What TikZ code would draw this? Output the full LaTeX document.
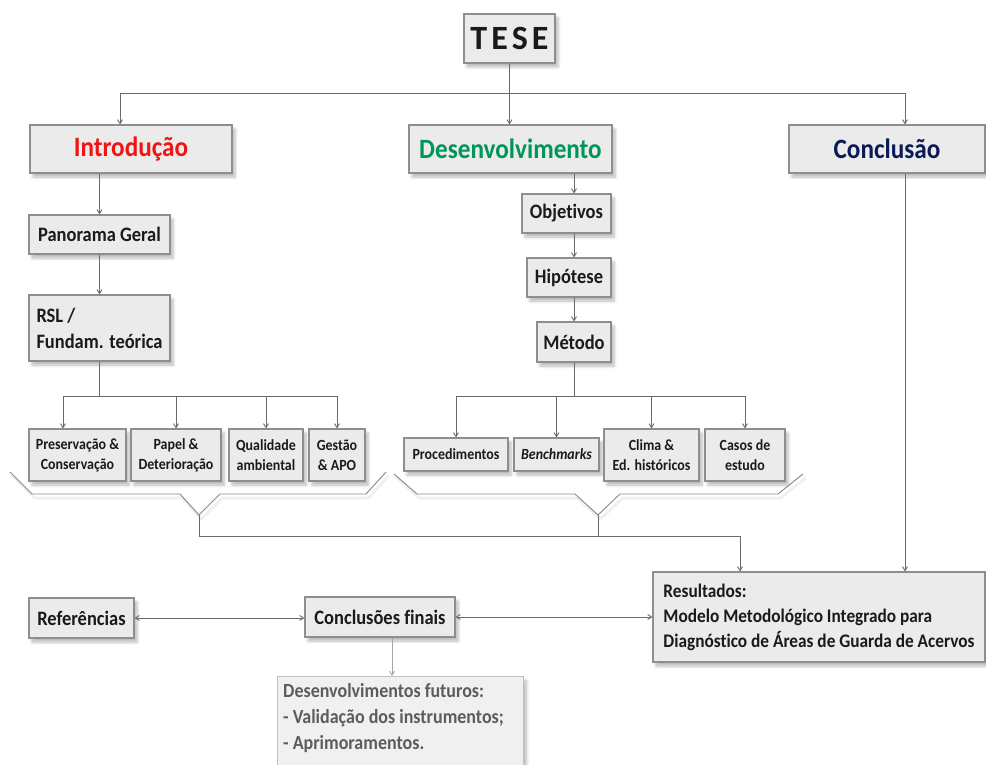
\documentclass[tikz,border=0pt]{standalone}
\usepackage{fontspec}
\setmainfont{Carlito}[FakeStretch=0.9, Ligatures={NoCommon}]
\newfontfamily\tesefont{Carlito}
\usetikzlibrary{arrows.meta,shadows.blur}
\definecolor{boxfill}{HTML}{EBEBEB}
\definecolor{boxline}{HTML}{8E8E8E}
\definecolor{conn}{HTML}{6A6A6A}
\definecolor{txt}{HTML}{1A1A1A}
\definecolor{introred}{HTML}{F01414}
\definecolor{desgreen}{HTML}{00955A}
\definecolor{connavy}{HTML}{0B1A55}
\definecolor{futtxt}{HTML}{5C5C5C}
\begin{document}
\begin{tikzpicture}[x=1pt,y=-1pt,
  box/.style={draw=boxline, fill=boxfill, line width=1.1pt, inner sep=0pt, text=txt,
    blur shadow={shadow xshift=3pt, shadow yshift=-4pt, shadow blur steps=6, shadow opacity=28, shadow blur radius=3pt}},
  head/.style={font=\bfseries\fontsize{28}{28}\selectfont},
  mid/.style={font=\bfseries\fontsize{20.5}{26}\selectfont},
  small/.style={font=\bfseries\fontsize{15.5}{20}\selectfont, align=center},
  line/.style={draw=conn, line width=0.9pt},
  arr/.style={line, -{Straight Barb[length=4pt,width=5pt]}},
  arrb/.style={line, {Straight Barb[length=4pt,width=5pt]}-{Straight Barb[length=4pt,width=5pt]}},
  bracesty/.style={draw=conn!80, line width=0.9pt, line join=miter}]
\useasboundingbox (0,0) rectangle (986,765);
\clip (0,0) rectangle (986,765);

% top level
\node[box, minimum width=91pt, minimum height=49pt] (tese) at (509.5,38.5)
  {\tesefont\bfseries\fontsize{34}{34}\selectfont T\hspace{4pt}E\hspace{4pt}S\hspace{4pt}E};
\node[box, head, text=introred, minimum width=202pt, minimum height=48pt] (intro) at (131,149) {Introdução};
\node[box, head, text=desgreen, minimum width=203pt, minimum height=48pt] (desen) at (510.5,149) {Desenvolvimento};
\node[box, head, text=connavy, minimum width=196pt, minimum height=48pt] (concl) at (887,149) {Conclusão};

% introduction column
\node[box, mid, minimum width=141pt, minimum height=39pt] (pano) at (99.5,234.5) {Panorama Geral};
\node[box, mid, align=left, minimum width=141pt, minimum height=66pt] (rsl) at (99.5,328) {RSL /\\Fundam. teórica};
\node[box, small, minimum width=97pt, minimum height=52pt] (pres) at (77.5,455) {Preservação \&\\Conservação};
\node[box, small, minimum width=90pt, minimum height=52pt] (papel) at (176,455) {Papel \&\\Deterioração};
\node[box, small, minimum width=74pt, minimum height=52pt] (qual) at (266,455) {Qualidade\\ambiental};
\node[box, small, minimum width=56pt, minimum height=52pt] (gest) at (337,455) {Gestão\\\& APO};

% development column
\node[box, mid, minimum width=89pt, minimum height=39pt] (obj) at (566.5,213.5) {Objetivos};
\node[box, mid, minimum width=84pt, minimum height=39pt] (hip) at (569,277.5) {Hipótese};
\node[box, mid, minimum width=74pt, minimum height=40pt] (met) at (574,342) {Método};
\node[box, small, minimum width=104pt, minimum height=33pt] (proc) at (456,454.5) {Procedimentos};
\node[box, small, minimum width=85pt, minimum height=33pt] (bench) at (556.5,454.5) {\textit{Benchmarks}};
\node[box, small, minimum width=95pt, minimum height=52pt] (clima) at (651.5,455) {Clima \&\\Ed. históricos};
\node[box, small, minimum width=80pt, minimum height=52pt] (casos) at (745,455) {Casos de\\estudo};

% bottom
\node[box, font=\bfseries\fontsize{19.2}{25}\selectfont, align=left, minimum width=332pt, minimum height=90pt] (resu) at (819,617)
  {Resultados:\\Modelo Metodológico Integrado para\\Diagnóstico de Áreas de Guarda de Acervos};
\node[box, mid, minimum width=105pt, minimum height=40pt] (ref) at (81.5,618) {Referências};
\node[box, mid, minimum width=150pt, minimum height=40pt] (cf) at (380,617) {Conclusões finais};
\node[box, draw=boxline!55, fill=boxfill!75, minimum width=246pt, minimum height=114pt, anchor=north west] (fut) at (277,676) {};
\node[font=\bfseries\fontsize{20}{26}\selectfont, text=futtxt, align=left, anchor=north west, inner sep=0pt] (futtext) at (283,683)
  {Desenvolvimentos futuros:\\- Validação dos instrumentos;\\- Aprimoramentos.};

% top bus
\coordinate (busL) at (120,93);
\coordinate (busR) at (905,93);
\coordinate (busM) at (tese.south |- busL);
\draw[line] (tese.south) -- (busM);
\draw[line] (busL) -- (busR);
\draw[arr] (busL) -- (busL |- intro.north);
\draw[arr] (busM) -- (busM |- desen.north);
\draw[arr] (busR) -- (busR |- concl.north);

% introduction chain
\draw[arr] (intro.south -| pano.north) -- (pano.north);
\draw[arr] (pano.south) -- (rsl.north);
\coordinate (ib1) at (63,396);
\coordinate (ib4) at (337,396);
\draw[line] (rsl.south) -- (rsl.south |- ib1);
\draw[line] (ib1) -- (ib4);
\draw[arr] (ib1) -- (ib1 |- pres.north);
\draw[arr] (papel.north |- ib1) -- (papel.north);
\draw[arr] (qual.north |- ib1) -- (qual.north);
\draw[arr] (ib4) -- (gest.north);

% development chain
\draw[arr] (desen.south -| met.north) -- (met.north |- obj.north);
\draw[arr] (met.north |- obj.south) -- (met.north |- hip.north);
\draw[arr] (met.north |- hip.south) -- (met.north);
\coordinate (mb) at (574,396);
\draw[line] (met.south) -- (mb);
\draw[line] (proc.north |- mb) -- (casos.north |- mb);
\draw[arr] (proc.north |- mb) -- (proc.north);
\draw[arr] (bench.north |- mb) -- (bench.north);
\draw[arr] (clima.north |- mb) -- (clima.north);
\draw[arr] (casos.north |- mb) -- (casos.north);

% braces
\coordinate (tipL) at (199,515);
\coordinate (tipR) at (598,515);
\begin{scope}[transform canvas={xshift=2.5pt,yshift=-4pt}]
\draw[black!6, line width=3pt, line join=miter] (10,472) -- (32,494) -- (180,494) -- (tipL) -- (220,494) -- (366,494) -- (386,472);
\draw[black!6, line width=3pt, line join=miter] (394,474) -- (417,494) -- (575,494) -- (tipR) -- (620,494) -- (778,494) -- (803,474);
\end{scope}
\draw[bracesty] (10,472) -- (32,494) -- (180,494) -- (tipL) -- (220,494) -- (366,494) -- (386,472);
\draw[bracesty] (394,474) -- (417,494) -- (575,494) -- (tipR) -- (620,494) -- (778,494) -- (803,474);
\coordinate (busy) at (0,536);
\coordinate (resin) at ([xshift=-79pt]resu.north);
\draw[arr] (tipL) -- (tipL |- busy) -| (resin);
\draw[line] (tipR) -- (tipR |- busy);

% conclusion to results
\draw[arr] (busR |- concl.south) -- (busR |- resu.north);

% bottom arrows
\draw[arrb] (ref.east) -- (ref.east -| cf.west);
\draw[arrb] (cf.east) -- (cf.east -| resu.west);
\draw[arr, draw=conn!60] ([xshift=12pt]cf.south) -- ([xshift=12pt]cf.south |- fut.north);
\end{tikzpicture}
\end{document}
